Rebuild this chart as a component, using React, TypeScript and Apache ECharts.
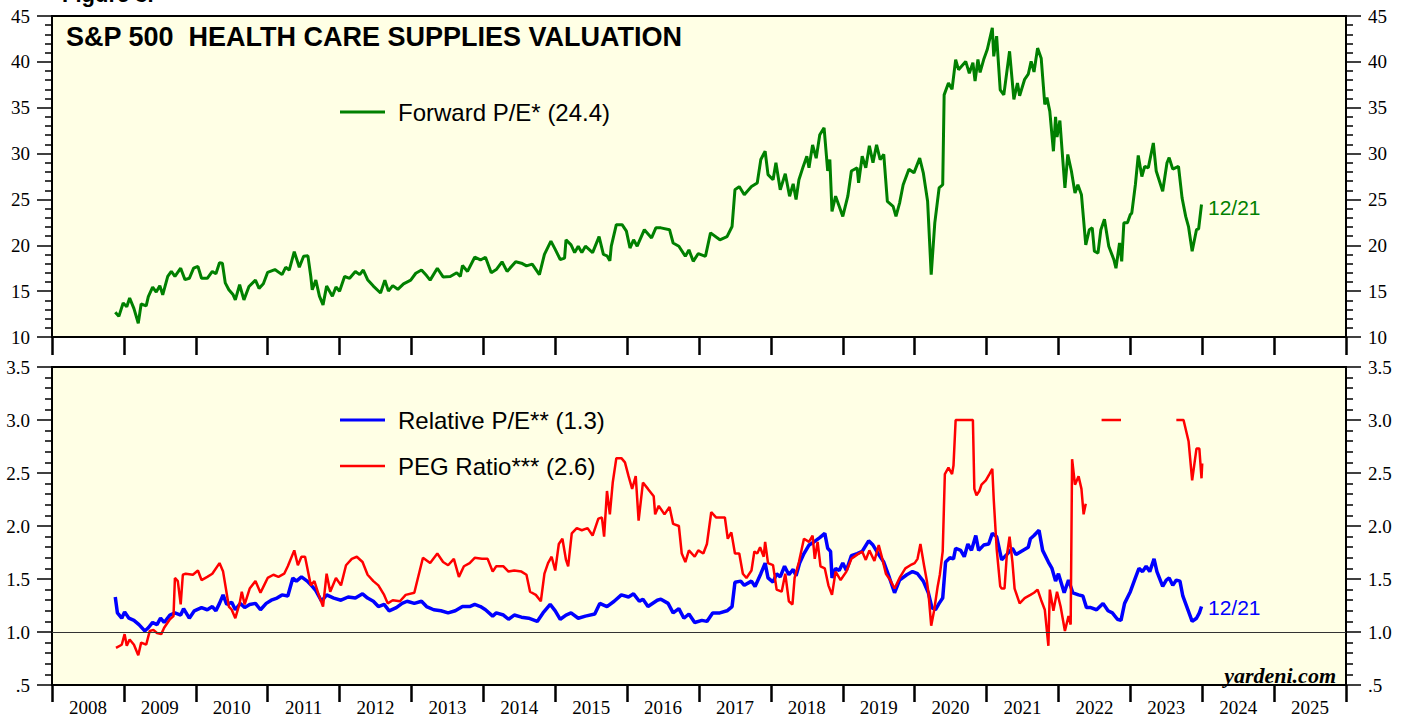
import React, { useEffect, useRef } from "react";
import * as echarts from "echarts";

const years = ["2008","2009","2010","2011","2012","2013","2014","2015","2016","2017","2018","2019","2020","2021","2022","2023","2024","2025"];

// Forward P/E: [decimal year, value]
const forwardPE: [number, number][] = [
[2008.88,12.7],[2008.93,12.25],[2008.99,13.7],[2009.04,13.3],[2009.08,14.25],[2009.14,13.1],[2009.20,11.5],[2009.24,13.6],[2009.31,13.4],[2009.34,14.4],[2009.40,15.45],[2009.45,14.9],[2009.50,15.6],[2009.54,14.6],[2009.61,16.6],[2009.66,17.15],[2009.71,16.6],[2009.79,17.5],[2009.85,16.25],[2009.91,16.4],[2009.97,17.5],
[2010.03,17.7],[2010.08,16.4],[2010.16,16.4],[2010.23,17.15],[2010.28,16.9],[2010.33,18.1],[2010.37,18.05],[2010.41,15.9],[2010.46,15.15],[2010.52,14.6],[2010.55,14.05],[2010.61,15.7],[2010.67,14.05],[2010.74,15.5],[2010.83,16.2],[2010.88,15.3],[2010.94,15.8],
[2011.00,17.05],[2011.10,17.35],[2011.20,16.8],[2011.25,17.6],[2011.30,17.3],[2011.37,19.3],[2011.44,17.6],[2011.50,18.8],[2011.56,18.85],[2011.60,16.6],[2011.62,15.15],[2011.67,16.2],[2011.72,14.45],[2011.77,13.5],[2011.82,15.55],[2011.90,14.45],[2011.95,15.45],
[2012.00,15.0],[2012.07,16.6],[2012.14,16.4],[2012.22,17.15],[2012.28,16.8],[2012.33,17.3],[2012.39,16.25],[2012.47,15.55],[2012.57,14.8],[2012.63,16.2],[2012.68,15.0],[2012.74,15.6],[2012.81,15.2],[2012.89,15.8],[2012.99,16.2],
[2013.06,16.95],[2013.14,17.3],[2013.21,16.7],[2013.26,16.2],[2013.36,17.5],[2013.44,16.55],[2013.54,16.6],[2013.63,17.0],[2013.68,16.6],[2013.71,17.8],[2013.78,17.15],[2013.88,18.7],[2013.96,18.4],
[2014.03,18.7],[2014.11,17.0],[2014.18,17.35],[2014.26,18.2],[2014.33,17.15],[2014.45,18.2],[2014.53,18.05],[2014.60,17.75],[2014.68,17.95],[2014.78,16.8],[2014.85,19.0],[2014.94,20.45],
[2015.00,19.55],[2015.07,18.45],[2015.13,18.6],[2015.15,20.6],[2015.22,20.05],[2015.27,19.2],[2015.32,19.9],[2015.37,19.2],[2015.42,19.9],[2015.52,19.2],[2015.61,20.95],[2015.67,19.0],[2015.72,18.85],[2015.76,18.3],[2015.78,19.9],[2015.85,22.25],[2015.93,22.25],[2015.99,21.55],
[2016.04,19.7],[2016.09,20.6],[2016.14,19.9],[2016.24,21.7],[2016.34,20.8],[2016.40,21.9],[2016.47,21.9],[2016.59,21.7],[2016.64,20.25],[2016.72,19.9],[2016.81,18.8],[2016.86,19.5],[2016.92,18.25],[2016.99,19.1],
[2017.09,18.8],[2017.16,21.35],[2017.29,20.6],[2017.39,20.95],[2017.46,22.05],[2017.50,26.05],[2017.56,26.4],[2017.63,25.5],[2017.73,26.4],[2017.81,26.8],[2017.86,29.35],[2017.92,30.25],[2017.96,27.7],
[2018.03,27.15],[2018.07,29.0],[2018.13,26.05],[2018.20,27.8],[2018.26,25.35],[2018.31,26.7],[2018.35,25.0],[2018.39,27.15],[2018.45,28.6],[2018.50,29.7],[2018.53,28.45],[2018.58,30.95],[2018.63,29.5],[2018.68,32.05],[2018.74,32.8],[2018.79,28.1],[2018.82,29.35],[2018.85,23.7],[2018.90,25.35],[2018.95,24.25],
[2019.00,23.15],[2019.07,25.35],[2019.12,28.1],[2019.20,28.45],[2019.22,26.8],[2019.27,29.7],[2019.32,28.45],[2019.37,30.85],[2019.42,29.0],[2019.47,30.95],[2019.52,29.35],[2019.57,29.9],[2019.62,24.8],[2019.70,24.25],[2019.74,23.15],[2019.79,24.6],[2019.84,26.6],[2019.92,28.3],[2019.99,27.9],
[2020.07,29.5],[2020.12,27.9],[2020.18,24.8],[2020.23,16.8],[2020.28,22.45],[2020.34,26.25],[2020.39,26.6],[2020.41,36.4],[2020.47,37.7],[2020.52,37.0],[2020.57,40.25],[2020.61,39.15],[2020.71,40.05],[2020.76,38.75],[2020.81,39.9],[2020.84,37.9],[2020.88,40.25],[2020.91,38.85],[2020.96,40.25],
[2021.01,41.35],[2021.08,43.7],[2021.10,40.6],[2021.14,42.8],[2021.19,36.95],[2021.24,36.4],[2021.32,41.15],[2021.38,35.9],[2021.43,37.7],[2021.46,36.3],[2021.53,38.1],[2021.58,38.65],[2021.62,40.05],[2021.66,38.9],[2021.71,41.5],[2021.76,40.4],[2021.81,35.35],[2021.84,36.1],[2021.88,34.6],[2021.93,30.25],[2021.96,34.0],[2021.98,31.8],
[2022.02,33.6],[2022.05,30.4],[2022.09,26.25],[2022.13,29.9],[2022.18,28.1],[2022.23,25.7],[2022.27,26.6],[2022.32,25.5],[2022.38,20.05],[2022.43,21.7],[2022.47,21.9],[2022.50,19.35],[2022.55,19.15],[2022.59,21.7],[2022.64,22.85],[2022.70,19.9],[2022.77,18.45],[2022.80,17.5],[2022.85,20.25],[2022.88,18.25],[2022.91,22.45],[2022.96,22.45],
[2023.00,23.35],[2023.02,23.5],[2023.07,26.6],[2023.11,29.8],[2023.16,27.5],[2023.20,28.6],[2023.25,28.45],[2023.32,31.15],[2023.36,28.1],[2023.45,25.9],[2023.51,29.0],[2023.54,29.55],[2023.59,28.3],[2023.67,28.6],[2023.72,25.15],[2023.77,23.15],[2023.81,22.0],[2023.86,19.35],[2023.92,21.7],[2023.95,21.8],[2023.99,24.45]
];

// Relative P/E
const relativePE: [number, number][] = [
[2008.88,1.33],[2008.91,1.18],[2008.97,1.13],[2009.01,1.19],[2009.07,1.13],[2009.14,1.11],[2009.21,1.07],[2009.29,1.01],[2009.34,1.04],[2009.40,1.09],[2009.46,1.07],[2009.51,1.13],[2009.56,1.09],[2009.64,1.16],[2009.71,1.18],[2009.79,1.16],[2009.83,1.22],[2009.91,1.13],[2009.98,1.20],
[2010.08,1.23],[2010.16,1.21],[2010.23,1.24],[2010.28,1.20],[2010.33,1.27],[2010.38,1.35],[2010.43,1.26],[2010.50,1.28],[2010.55,1.21],[2010.62,1.27],[2010.68,1.23],[2010.75,1.26],[2010.83,1.27],[2010.90,1.21],[2010.98,1.27],
[2011.05,1.30],[2011.13,1.32],[2011.20,1.35],[2011.28,1.34],[2011.35,1.51],[2011.40,1.48],[2011.47,1.52],[2011.55,1.48],[2011.62,1.43],[2011.67,1.39],[2011.75,1.29],[2011.82,1.35],[2011.92,1.32],
[2012.02,1.30],[2012.12,1.33],[2012.22,1.32],[2012.32,1.36],[2012.39,1.32],[2012.47,1.29],[2012.54,1.24],[2012.62,1.26],[2012.69,1.20],[2012.79,1.23],[2012.87,1.27],[2012.94,1.29],
[2013.04,1.27],[2013.14,1.29],[2013.21,1.24],[2013.31,1.21],[2013.41,1.20],[2013.51,1.18],[2013.61,1.20],[2013.71,1.24],[2013.81,1.24],[2013.88,1.26],[2013.96,1.24],
[2014.03,1.21],[2014.13,1.15],[2014.18,1.18],[2014.28,1.16],[2014.35,1.12],[2014.43,1.16],[2014.53,1.14],[2014.63,1.13],[2014.75,1.10],[2014.83,1.18],[2014.93,1.26],
[2015.00,1.20],[2015.07,1.12],[2015.15,1.16],[2015.22,1.18],[2015.32,1.13],[2015.42,1.15],[2015.55,1.17],[2015.62,1.27],[2015.72,1.24],[2015.82,1.29],[2015.92,1.35],
[2016.02,1.33],[2016.09,1.36],[2016.17,1.29],[2016.22,1.31],[2016.29,1.24],[2016.42,1.30],[2016.47,1.31],[2016.57,1.27],[2016.64,1.18],[2016.72,1.22],[2016.79,1.13],[2016.86,1.17],[2016.94,1.09],
[2017.04,1.11],[2017.11,1.10],[2017.19,1.18],[2017.29,1.18],[2017.39,1.20],[2017.46,1.24],[2017.50,1.47],[2017.58,1.48],[2017.63,1.44],[2017.73,1.48],[2017.78,1.43],[2017.86,1.55],[2017.92,1.65],[2017.96,1.51],
[2018.03,1.47],[2018.08,1.55],[2018.13,1.52],[2018.19,1.62],[2018.25,1.54],[2018.31,1.59],[2018.35,1.53],[2018.40,1.65],[2018.46,1.74],[2018.53,1.82],[2018.60,1.85],[2018.68,1.89],[2018.75,1.93],[2018.79,1.79],[2018.83,1.76],[2018.85,1.51],[2018.90,1.60],[2018.95,1.58],
[2019.00,1.65],[2019.05,1.58],[2019.12,1.72],[2019.20,1.74],[2019.27,1.76],[2019.36,1.86],[2019.42,1.82],[2019.50,1.73],[2019.57,1.66],[2019.65,1.51],[2019.72,1.37],[2019.79,1.49],[2019.89,1.54],[2019.97,1.57],
[2020.04,1.55],[2020.12,1.48],[2020.19,1.37],[2020.24,1.23],[2020.29,1.21],[2020.34,1.27],[2020.39,1.32],[2020.43,1.66],[2020.49,1.70],[2020.54,1.69],[2020.57,1.79],[2020.64,1.77],[2020.69,1.71],[2020.74,1.83],[2020.79,1.77],[2020.85,1.91],[2020.89,1.77],[2020.96,1.82],
[2021.03,1.83],[2021.08,1.93],[2021.14,1.90],[2021.21,1.68],[2021.28,1.73],[2021.36,1.79],[2021.41,1.73],[2021.48,1.76],[2021.58,1.80],[2021.61,1.88],[2021.66,1.91],[2021.73,1.96],[2021.78,1.77],[2021.86,1.66],[2021.91,1.60],[2021.96,1.48],
[2022.00,1.55],[2022.08,1.37],[2022.14,1.49],[2022.20,1.37],[2022.28,1.35],[2022.34,1.34],[2022.39,1.23],[2022.45,1.23],[2022.53,1.21],[2022.62,1.27],[2022.69,1.20],[2022.75,1.18],[2022.82,1.12],[2022.87,1.11],[2022.92,1.27],
[2023.00,1.38],[2023.07,1.51],[2023.12,1.60],[2023.17,1.57],[2023.22,1.62],[2023.27,1.57],[2023.33,1.69],[2023.37,1.57],[2023.45,1.43],[2023.50,1.49],[2023.54,1.51],[2023.59,1.44],[2023.64,1.49],[2023.69,1.48],[2023.73,1.34],[2023.79,1.23],[2023.86,1.10],[2023.92,1.13],[2023.96,1.18],[2023.99,1.24]
];

// PEG ratio (null = not shown)
const pegRatio: [number, number | null][] = [
[2008.89,0.85],[2008.97,0.88],[2009.01,0.98],[2009.04,0.87],[2009.08,0.93],[2009.14,0.88],[2009.20,0.78],[2009.24,0.90],[2009.31,0.88],[2009.36,1.01],[2009.41,1.02],[2009.46,0.99],[2009.52,0.98],[2009.56,1.04],[2009.64,1.12],[2009.69,1.15],[2009.71,1.51],[2009.75,1.48],[2009.79,1.26],[2009.82,1.54],[2009.86,1.55],[2009.96,1.54],
[2010.03,1.58],[2010.08,1.49],[2010.16,1.52],[2010.23,1.55],[2010.33,1.65],[2010.38,1.57],[2010.46,1.24],[2010.50,1.21],[2010.55,1.13],[2010.61,1.27],[2010.64,1.38],[2010.68,1.26],[2010.75,1.41],[2010.83,1.48],[2010.90,1.37],[2010.95,1.44],
[2011.00,1.51],[2011.08,1.54],[2011.15,1.52],[2011.23,1.55],[2011.28,1.62],[2011.37,1.77],[2011.42,1.63],[2011.47,1.71],[2011.52,1.71],[2011.60,1.44],[2011.65,1.48],[2011.71,1.35],[2011.77,1.24],[2011.82,1.55],[2011.87,1.38],[2011.95,1.51],
[2012.02,1.44],[2012.09,1.63],[2012.17,1.69],[2012.24,1.71],[2012.32,1.66],[2012.39,1.54],[2012.47,1.48],[2012.54,1.44],[2012.62,1.35],[2012.67,1.27],[2012.74,1.30],[2012.84,1.29],[2012.92,1.35],
[2013.04,1.37],[2013.09,1.51],[2013.16,1.70],[2013.26,1.65],[2013.36,1.74],[2013.44,1.66],[2013.51,1.63],[2013.59,1.69],[2013.66,1.52],[2013.73,1.62],[2013.81,1.65],[2013.88,1.70],[2013.98,1.69],
[2014.06,1.69],[2014.13,1.57],[2014.18,1.62],[2014.28,1.62],[2014.35,1.57],[2014.43,1.58],[2014.53,1.57],[2014.60,1.54],[2014.65,1.38],[2014.73,1.35],[2014.80,1.29],[2014.85,1.55],[2014.90,1.65],[2014.95,1.71],
[2015.00,1.58],[2015.05,1.83],[2015.10,1.88],[2015.15,1.68],[2015.18,1.62],[2015.23,1.93],[2015.30,1.98],[2015.37,1.96],[2015.45,1.98],[2015.52,1.91],[2015.60,2.07],[2015.65,2.08],[2015.68,1.90],[2015.72,2.33],[2015.76,2.11],[2015.80,2.41],[2015.85,2.64],[2015.92,2.64],[2015.97,2.60],
[2016.02,2.47],[2016.07,2.35],[2016.12,2.47],[2016.16,2.05],[2016.22,2.41],[2016.29,2.35],[2016.37,2.28],[2016.39,2.11],[2016.44,2.19],[2016.52,2.11],[2016.59,2.18],[2016.64,2.02],[2016.72,2.00],[2016.76,1.74],[2016.81,1.66],[2016.86,1.77],[2016.94,1.71],[2016.99,1.77],
[2017.06,1.74],[2017.11,1.83],[2017.17,2.13],[2017.24,2.08],[2017.36,2.08],[2017.40,1.88],[2017.45,1.94],[2017.50,1.74],[2017.56,1.74],[2017.61,1.55],[2017.66,1.51],[2017.73,1.58],[2017.77,1.76],[2017.81,1.74],[2017.85,1.80],[2017.90,1.71],[2017.92,1.85],[2017.96,1.65],
[2018.03,1.63],[2018.08,1.40],[2018.15,1.38],[2018.20,1.55],[2018.25,1.29],[2018.30,1.26],[2018.33,1.51],[2018.39,1.66],[2018.46,1.88],[2018.53,1.85],[2018.58,1.91],[2018.61,1.69],[2018.65,1.85],[2018.69,1.62],[2018.75,1.60],[2018.80,1.44],[2018.85,1.35],[2018.90,1.57],[2018.97,1.49],
[2019.05,1.57],[2019.12,1.69],[2019.20,1.73],[2019.27,1.76],[2019.32,1.68],[2019.37,1.77],[2019.44,1.67],[2019.50,1.82],[2019.55,1.69],[2019.60,1.55],[2019.66,1.49],[2019.72,1.41],[2019.79,1.51],[2019.87,1.60],[2019.94,1.63],
[2020.00,1.65],[2020.04,1.69],[2020.08,1.83],[2020.13,1.63],[2020.17,1.48],[2020.19,1.38],[2020.23,1.06],[2020.27,1.20],[2020.32,1.43],[2020.35,1.54],[2020.39,1.76],[2020.42,2.49],[2020.47,2.55],[2020.52,2.49],[2020.54,2.57],[2020.57,3.0],[2020.69,3.0],[2020.81,3.0],[2020.83,2.35],[2020.86,2.29],[2020.90,2.33],[2020.93,2.39],[2020.99,2.43],
[2021.04,2.49],[2021.08,2.54],[2021.10,2.25],[2021.14,1.79],[2021.19,1.43],[2021.21,1.41],[2021.25,1.41],[2021.28,1.71],[2021.32,1.90],[2021.36,1.66],[2021.39,1.41],[2021.46,1.27],[2021.53,1.32],[2021.61,1.35],[2021.66,1.37],[2021.71,1.40],[2021.76,1.30],[2021.81,1.21],[2021.86,0.87],[2021.88,1.40],[2021.93,1.20],[2021.98,1.38],
[2022.03,1.24],[2022.09,1.01],[2022.14,1.15],[2022.17,1.07],[2022.19,2.63],[2022.23,2.39],[2022.28,2.47],[2022.32,2.35],[2022.35,2.11],[2022.38,2.21],[2022.45,null],[2022.60,3.0],[2022.87,3.0],[2022.95,null],
[2023.64,3.0],[2023.74,3.0],[2023.81,2.80],[2023.86,2.43],[2023.92,2.73],[2023.96,2.73],[2023.99,2.45],[2024.00,2.59]
];

const yTicksTop = { min: 10, max: 45, interval: 5 };
const yTicksBottom = { min: 0.5, max: 3.5, interval: 0.5 };

const SERIF = '"Liberation Serif", "Times New Roman", serif';
const SANS = '"Liberation Sans", Arial, Helvetica, sans-serif';

const GREEN = "#008000";
const BLUE = "#0000FF";
const RED = "#FF0000";
const PANEL = "#FFFFE5";

function yAxisCfg(grid: number, pos: "left" | "right", r: { min: number; max: number; interval: number }, fmt?: (v: number) => string) {
  return {
    type: "value",
    gridIndex: grid,
    position: pos,
    min: r.min,
    max: r.max,
    interval: r.interval,
    axisLine: { show: true, lineStyle: { color: "#000", width: 2 } },
    axisTick: { show: true, inside: false, length: 15, lineStyle: { color: "#000", width: 1.5 } },
    minorTick: { show: true, splitNumber: 5, length: 7, lineStyle: { color: "#000", width: 1.5 } },
    axisLabel: { show: true, margin: 22, fontFamily: SERIF, fontSize: 19, color: "#000", formatter: fmt },
    splitLine: { show: false },
    minorSplitLine: { show: false },
  };
}

function catAxisCfg(grid: number, showLabels: boolean, tickLen: number) {
  return {
    type: "category",
    gridIndex: grid,
    position: "bottom",
    data: years,
    boundaryGap: true,
    axisLine: { show: true, lineStyle: { color: "#000", width: 2 } },
    axisTick: { show: true, inside: false, length: tickLen, interval: 0, alignWithLabel: false, lineStyle: { color: "#000", width: 2.5 } },
    axisLabel: { show: showLabels, interval: 0, margin: 13, fontFamily: SERIF, fontSize: 19, color: "#000" },
    splitLine: { show: false },
  };
}

function valXAxis(grid: number) {
  return { type: "value", gridIndex: grid, position: "top", min: 2008, max: 2026, show: false, splitLine: { show: false } };
}

export default function App() {
  const ref = useRef<HTMLDivElement>(null);
  useEffect(() => {
    if (!ref.current) return;
    const chart = echarts.init(ref.current, undefined, { renderer: "svg" });
    const legendText = (x: number, y: number, text: string, fill = "#000", size = 24) => ({
      type: "text", x, y, z: 10,
      style: { text, font: `${size}px ${SANS}`, fill, verticalAlign: "middle", align: "left" },
    });
    const legendLine = (y: number, color: string, w: number) => ({
      type: "line", z: 10,
      shape: { x1: 340, y1: y, x2: 385, y2: y },
      style: { stroke: color, lineWidth: w },
    });
    chart.setOption({
      animation: false,
      backgroundColor: "#FFFFFF",
      grid: [
        { left: 52, right: 61, top: 16, height: 321, show: true, backgroundColor: PANEL, borderColor: "#000", borderWidth: 2 },
        { left: 52, right: 61, top: 367, height: 321, show: true, backgroundColor: PANEL, borderColor: "#000", borderWidth: 2 },
      ],
      xAxis: [catAxisCfg(0, false, 18), valXAxis(0), catAxisCfg(1, true, 17), valXAxis(1)],
      yAxis: [
        yAxisCfg(0, "left", yTicksTop),
        yAxisCfg(0, "right", yTicksTop),
        yAxisCfg(1, "left", yTicksBottom, (v: number) => (v === 0.5 ? ".5" : v.toFixed(1))),
        yAxisCfg(1, "right", yTicksBottom, (v: number) => (v === 0.5 ? ".5" : v.toFixed(1))),
      ],
      series: [
        {
          type: "line", name: "Forward P/E", xAxisIndex: 1, yAxisIndex: 0,
          data: forwardPE, showSymbol: false, symbol: "none",
          lineStyle: { color: GREEN, width: 3 }, itemStyle: { color: GREEN },
        },
        {
          type: "line", name: "Relative P/E", xAxisIndex: 3, yAxisIndex: 2,
          data: relativePE, showSymbol: false, symbol: "none",
          lineStyle: { color: BLUE, width: 3.5 }, itemStyle: { color: BLUE },
          markLine: {
            silent: true, symbol: "none", animation: false,
            label: { show: false },
            lineStyle: { color: "#333", width: 1, type: "solid" },
            data: [{ yAxis: 1 }],
          },
        },
        {
          type: "line", name: "PEG Ratio", xAxisIndex: 3, yAxisIndex: 2,
          data: pegRatio.map(([t, v]) => [t, v === null ? "-" : v]),
          showSymbol: false, symbol: "none", connectNulls: false,
          lineStyle: { color: RED, width: 2.5 }, itemStyle: { color: RED },
        },
      ],
      graphic: [
        { type: "text", x: 62, y: 5, style: { text: "Figure 3.", font: `bold 22px ${SANS}`, fill: "#000", verticalAlign: "bottom" } },
        { type: "text", x: 66, y: 37, z: 10, style: { text: "S&P 500  HEALTH CARE SUPPLIES VALUATION", font: `bold 27px ${SANS}`, fill: "#000", verticalAlign: "middle" } },
        legendLine(112, GREEN, 3),
        legendText(398, 112, "Forward P/E* (24.4)"),
        legendLine(420, BLUE, 3),
        legendText(398, 420, "Relative P/E** (1.3)"),
        legendLine(466, RED, 2.5),
        legendText(398, 466, "PEG Ratio*** (2.6)"),
        legendText(1208, 207, "12/21", GREEN, 21),
        legendText(1208, 607, "12/21", BLUE, 21),
        { type: "text", x: 1336, y: 675, z: 10, style: { text: "yardeni.com", font: `italic bold 22px ${SERIF}`, fill: "#000", align: "right", verticalAlign: "middle" } },
      ],
    });
    return () => chart.dispose();
  }, []);
  return <div ref={ref} style={{ position: "absolute", left: 0, top: 0, width: 1407, height: 717 }} />;
}
